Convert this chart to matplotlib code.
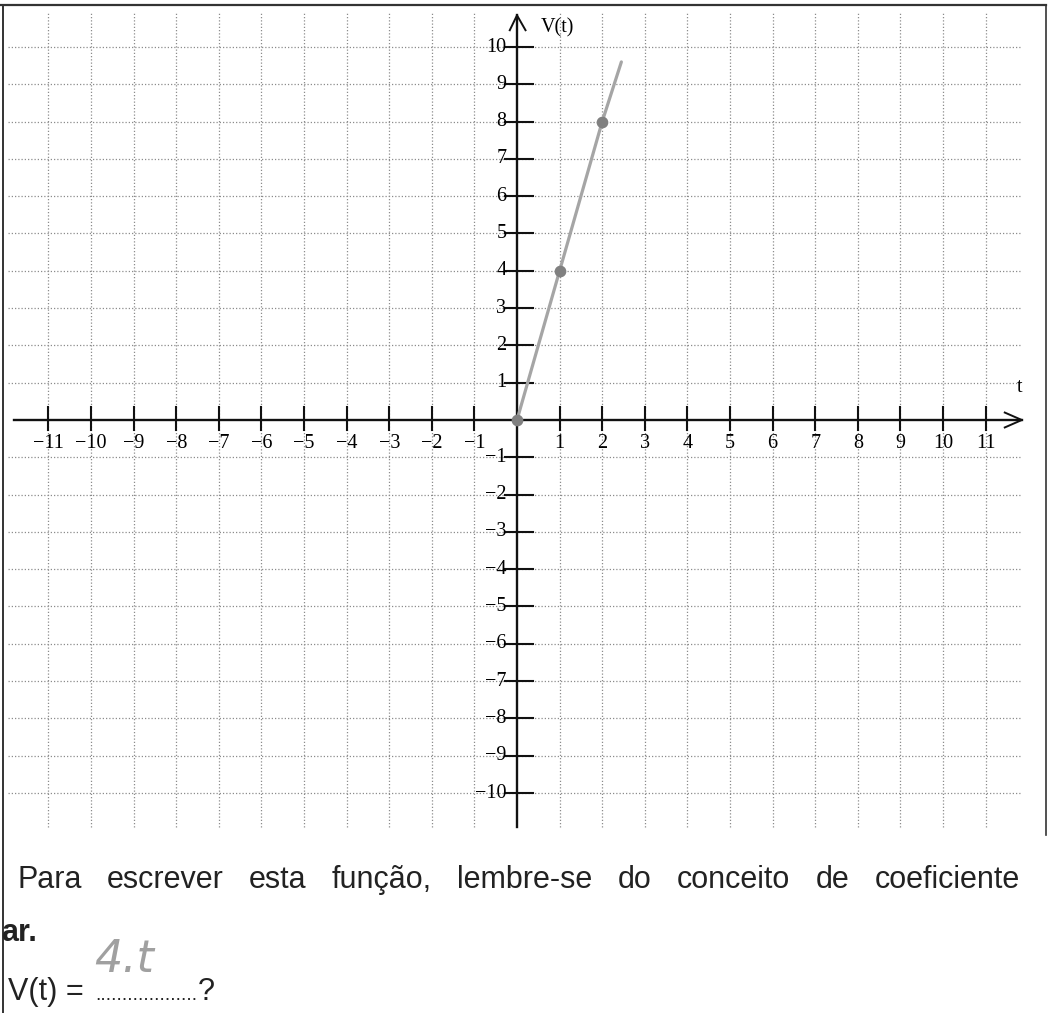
import numpy as np
import matplotlib.pyplot as plt

# data: speed V(t) read at a few instants, plus the hand-drawn end of the line
t_pts = [0, 1, 2]
v_pts = [0, 4, 8]
t_line = [0, 1, 2, 2.45]
v_line = [0, 4, 8, 9.6]

x_ticks = [i for i in range(-11, 12) if i != 0]
y_ticks = [i for i in range(-10, 11) if i != 0]

W, H = 1048, 1013
fig = plt.figure(figsize=(W / 100, H / 100), dpi=100)
ax = fig.add_axes([0, 0, 1, 1])
ax.set_axis_off()

# pixel scale of one unit on each axis, origin position
ux, uy = 42.6, 37.3
ox, oy = 517, 420
ax.set_xlim(-ox / ux, (W - ox) / ux)
ax.set_ylim((oy - H) / uy, oy / uy)

serif = 'Liberation Serif'
sans = 'Liberation Sans'
grid_kw = dict(color='#8c8c8c', lw=0.9, ls=(0, (1, 1.6)), zorder=1)

# dotted grid
for x in range(-11, 12):
    if x != 0:
        ax.plot([x, x], [-10.9, 10.95], **grid_kw)
for y in range(-10, 11):
    if y != 0:
        ax.plot([-11.95, 11.8], [y, y], **grid_kw)

# axes with open arrow heads
ax.plot([-11.8, 11.85], [0, 0], color='#111111', lw=1.7, zorder=3)
ax.plot([0, 0], [-10.9, 10.85], color='#111111', lw=1.7, zorder=3)
ax.plot([11.45, 11.85, 11.45], [0.2, 0, -0.2], color='#111111', lw=1.4, zorder=3)
ax.plot([-0.17, 0, 0.2], [10.45, 10.85, 10.45], color='#111111', lw=1.4, zorder=3)

for x in x_ticks:
    ax.plot([x, x], [-0.27, 0.35], color='#111111', lw=1.5, zorder=3)
    lab = str(x).replace('-', '\u2212')
    ax.text(x, -0.62, lab, family=serif, fontsize=14.5, ha='center', va='center', zorder=4)
for y in y_ticks:
    ax.plot([-0.28, 0.38], [y, y], color='#111111', lw=1.5, zorder=3)
    lab = str(y).replace('-', '\u2212')
    ax.text(-0.25, y, lab, family=serif, fontsize=14.5, ha='right', va='center', zorder=4)

ax.text(0.55, (oy - 28) / uy, 'V(t)', family=serif, fontsize=14.5, ha='left', va='center')
ax.text(11.8, (oy - 388) / uy, 't', family=serif, fontsize=14.5, ha='center', va='center')

# pencil line and marked points
ax.plot(t_line, v_line, color='#a5a5a5', lw=2.3, solid_capstyle='round', zorder=5)
ax.scatter(t_pts, v_pts, s=55, color='#808080', zorder=6)

# frame of the sheet
def px(x, y):
    return x / W, 1 - y / H

fig.add_artist(plt.Line2D([px(0, 5)[0], px(1046, 5)[0]], [px(0, 5)[1]] * 2,
                          color='#333333', lw=1.6))
fig.add_artist(plt.Line2D([px(3, 0)[0]] * 2, [px(0, 5)[1], 0],
                          color='#333333', lw=1.4))
fig.add_artist(plt.Line2D([px(1046, 0)[0]] * 2, [px(0, 5)[1], px(0, 835)[1]],
                          color='#333333', lw=1.2))

# justified sentence below the grid
words = ['Para', 'escrever', 'esta', 'função,', 'lembre-se', 'do', 'conceito', 'de', 'coeficiente']
left, right = 17, 1020
renderer = fig.canvas.get_renderer()
objs = [fig.text(0, px(0, 888)[1], w, family=sans, fontsize=22, color='#222222',
                 ha='left', va='baseline') for w in words]
widths = [o.get_window_extent(renderer).width for o in objs]
gap = (right - left - sum(widths)) / (len(words) - 1)
pos = left
for o, wd in zip(objs, widths):
    o.set_x(pos / W)
    pos += wd + gap

fig.text(*px(1, 941), 'ar.', family=sans, fontsize=22, weight='bold', color='#222222',
         ha='left', va='baseline')
fig.text(*px(8, 1000), 'V(t) =', family=sans, fontsize=22, color='#222222', ha='left', va='baseline')
fig.text(*px(95, 1000), '.' * 19, family=sans, fontsize=14, color='#222222', ha='left', va='baseline')
fig.text(*px(198, 1000), '?', family=sans, fontsize=22, color='#222222', ha='left', va='baseline')
fig.text(*px(94, 972), '4.t', family='DejaVu Sans', fontsize=32, style='italic', weight='light',
         color='#a0a0a0', ha='left', va='baseline')

fig.savefig('out.png', dpi=100)
